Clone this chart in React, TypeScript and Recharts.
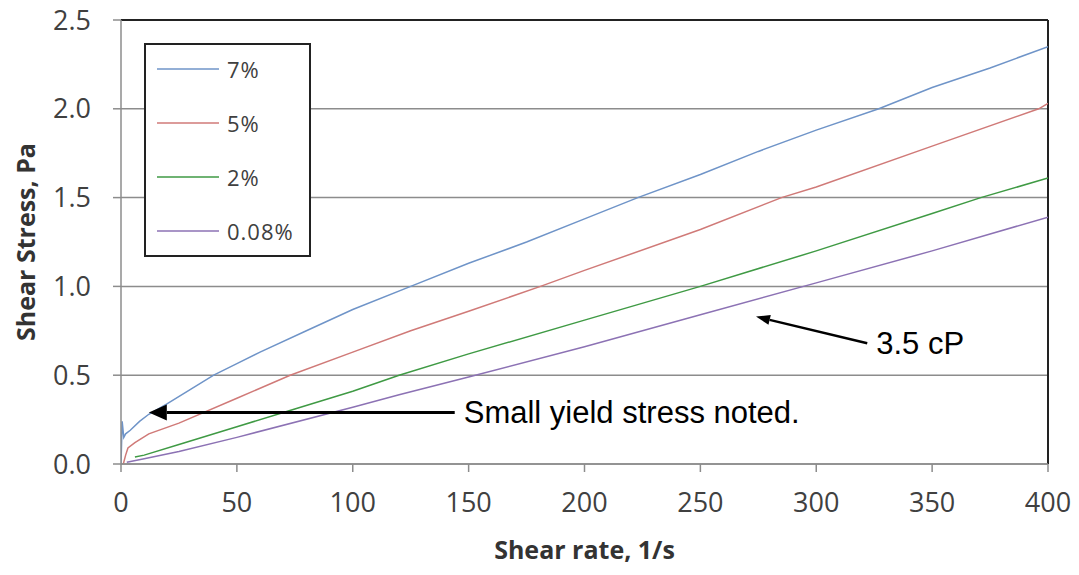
import React from 'react';
import { LineChart, Line, XAxis, YAxis, CartesianGrid, Legend, ReferenceLine } from 'recharts';

// shear rate (1/s) and shear stress (Pa)
const shearRate7 = [0, 0.5, 1.2, 2, 4, 8, 12, 20, 30, 40, 50, 60, 80, 100, 125, 150, 175, 200, 223, 250, 275, 300, 327, 350, 375, 400];
const stress7 = [0, 0.24, 0.15, 0.17, 0.19, 0.24, 0.28, 0.34, 0.42, 0.5, 0.565, 0.63, 0.75, 0.87, 1.0, 1.13, 1.25, 1.38, 1.5, 1.63, 1.76, 1.88, 2.0, 2.12, 2.23, 2.35];

const shearRate5 = [1, 2, 3, 6, 12, 25, 50, 73, 100, 125, 150, 181, 200, 250, 285, 300, 350, 396, 400];
const stress5 = [0, 0.05, 0.09, 0.12, 0.17, 0.23, 0.37, 0.5, 0.63, 0.75, 0.86, 1.0, 1.09, 1.32, 1.5, 1.56, 1.79, 2.0, 2.03];

const shearRate2 = [6, 10, 25, 50, 75, 100, 120, 150, 200, 250, 300, 350, 371, 400];
const stress2 = [0.04, 0.05, 0.11, 0.21, 0.31, 0.41, 0.5, 0.62, 0.81, 1.0, 1.2, 1.41, 1.5, 1.61];

const shearRate008 = [2.5, 10, 25, 50, 100, 120, 150, 200, 250, 300, 350, 400];
const stress008 = [0.01, 0.03, 0.07, 0.15, 0.32, 0.39, 0.49, 0.66, 0.84, 1.02, 1.2, 1.39];

const xTicks = [0, 50, 100, 150, 200, 250, 300, 350, 400];
const yTicks = [0, 0.5, 1.0, 1.5, 2.0, 2.5];

const seriesNames = ['7%', '5%', '2%', '0.08%'];
const seriesColors = ['#6f94c8', '#d07a78', '#3f9a44', '#8c72b4'];

const toPoints = (xs: number[], ys: number[]) => xs.map((x, i) => ({ x, y: ys[i] }));

const series = [
  toPoints(shearRate7, stress7),
  toPoints(shearRate5, stress5),
  toPoints(shearRate2, stress2),
  toPoints(shearRate008, stress008),
];

const TICK_FONT = '"Open Sans", sans-serif';
const NOTE_FONT = '"Liberation Sans", Arial, sans-serif';

function LegendBox(props: any) {
  const items = [...(props.payload || [])].sort(
    (a: any, b: any) => seriesNames.indexOf(a.value) - seriesNames.indexOf(b.value)
  );
  return (
    <div style={{ marginTop: -3 }}>
      {items.map((item: any) => (
        <div key={item.value} style={{ display: 'flex', alignItems: 'center', height: 54 }}>
          <svg width={62} height={4} style={{ marginLeft: 11, marginRight: 8 }}>
            <line x1={0} y1={2} x2={62} y2={2} stroke={item.color} strokeWidth={1.5} />
          </svg>
          <span style={{ fontFamily: TICK_FONT, fontSize: 22, color: '#404040', letterSpacing: 1 }}>{item.value}</span>
        </div>
      ))}
    </div>
  );
}

function arrowShape(text: string, head: number, half: number, width: number) {
  return (p: any) => {
    const { x1, y1, x2, y2 } = p;
    const ang = Math.atan2(y2 - y1, x2 - x1);
    const bx = x2 - head * Math.cos(ang);
    const by = y2 - head * Math.sin(ang);
    const nx = -Math.sin(ang) * half;
    const ny = Math.cos(ang) * half;
    return (
      <g>
        <line x1={x1} y1={y1} x2={bx} y2={by} stroke="#000" strokeWidth={width} />
        <polygon points={`${x2},${y2} ${bx + nx},${by + ny} ${bx - nx},${by - ny}`} fill="#000" />
        <text x={x1 + 9} y={y1 + 11} fontFamily={NOTE_FONT} fontSize={31} fill="#000">{text}</text>
      </g>
    );
  };
}

function YTitle(props: any) {
  const vb = props.viewBox;
  const cx = vb.x + 25;
  const cy = vb.y + vb.height / 2;
  return (
    <text x={cx} y={cy} transform={`rotate(-90, ${cx}, ${cy})`} textAnchor="middle" dominantBaseline="central"
      fontFamily={TICK_FONT} fontWeight="bold" fontSize={25} fill="#333">
      Shear Stress, Pa
    </text>
  );
}

function XTitle(props: any) {
  const vb = props.viewBox;
  return (
    <text x={vb.x + vb.width / 2} y={vb.y + 95} textAnchor="middle"
      fontFamily={TICK_FONT} fontWeight="bold" fontSize={25} fill="#333">
      Shear rate, 1/s
    </text>
  );
}

export default function App() {
  return (
    <div style={{ position: 'absolute', left: 0, top: 0, background: '#fff' }}>
      <LineChart width={1079} height={575} margin={{ top: 20, right: 31, bottom: 21, left: 0 }}>
        <CartesianGrid horizontal vertical={false} stroke="#8c8c8c" strokeWidth={1.5} />
        <XAxis type="number" dataKey="x" domain={[0, 400]} ticks={xTicks} height={90}
          axisLine={{ stroke: '#8c8c8c', strokeWidth: 1.5 }} tickLine={{ stroke: '#8c8c8c', strokeWidth: 1.5 }}
          tickSize={8} tickMargin={21} allowDataOverflow
          tick={{ fontFamily: TICK_FONT, fontSize: 27, fill: '#404040' }}
          label={<XTitle />} />
        <YAxis type="number" dataKey="y" domain={[0, 2.5]} ticks={yTicks} width={121}
          axisLine={{ stroke: '#8c8c8c', strokeWidth: 1.5 }} tickLine={{ stroke: '#8c8c8c', strokeWidth: 1.5 }}
          tickSize={8} tickMargin={22} allowDataOverflow
          tickFormatter={(v: number) => v.toFixed(1)}
          tick={{ fontFamily: TICK_FONT, fontSize: 27, fill: '#404040' }}
          label={<YTitle />} />
        <ReferenceLine y={2.5} stroke="#222" strokeWidth={2} />
        <ReferenceLine x={400} stroke="#222" strokeWidth={2} />
        {series.map((data, i) => (
          <Line key={seriesNames[i]} data={data} dataKey="y" name={seriesNames[i]} type="linear"
            stroke={seriesColors[i]} strokeWidth={1.5} dot={false} isAnimationActive={false} />
        ))}
        <ReferenceLine segment={[{ x: 144, y: 0.29 }, { x: 12, y: 0.29 }]}
          shape={arrowShape('Small yield stress noted.', 18, 8, 3)} />
        <ReferenceLine segment={[{ x: 322, y: 0.68 }, { x: 274, y: 0.83 }]}
          shape={arrowShape('3.5 cP', 14, 5, 2.5)} />
        <Legend layout="vertical" align="center" verticalAlign="middle" content={<LegendBox />}
          wrapperStyle={{ left: 144, top: 43, width: 167, height: 214, border: '2px solid #222', boxSizing: 'border-box', background: '#fff' }} />
      </LineChart>
    </div>
  );
}
